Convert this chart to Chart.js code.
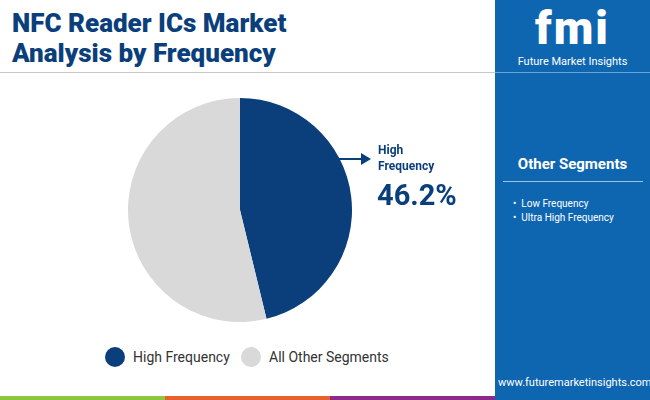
<!DOCTYPE html>
<html><head><meta charset="utf-8">
<script src="https://cdn.jsdelivr.net/npm/chart.js@4"></script>
<style>
body{margin:0;width:650px;height:400px;position:relative;overflow:hidden;background:#fff;font-family:Roboto,"Open Sans",sans-serif}
.abs{position:absolute}
#title{left:12px;top:8px;font-size:26px;font-weight:900;color:#0b3f7c;line-height:30px}
#rule{left:0;top:72px;width:495px;height:1px;background:#c8c8c8}
#side{left:495px;top:0;width:155px;height:400px;background:#0f66b0}
#chartBox{left:128px;top:98px;width:224px;height:224px}
.leg{top:347px;font-size:14px;color:#333;display:flex;align-items:center}
.dot{width:20px;height:20px;border-radius:50%;margin-right:8px}
</style></head><body>
<div id="title" class="abs">NFC Reader ICs Market<br>Analysis by Frequency</div>
<div id="rule" class="abs"></div>
<div id="side" class="abs">
  <div class="abs" style="left:0;top:4px;width:155px;text-align:center;color:#fff;font-size:46px;font-weight:900;line-height:48px;letter-spacing:2px">fmi</div>
  <div class="abs" style="left:0;top:55px;width:155px;text-align:center;color:#fff;font-size:11px;line-height:13px">Future Market Insights</div>
  <div class="abs" style="left:0;top:72px;width:155px;height:1px;background:#6ea3d6"></div>
  <div class="abs" style="left:0;top:155px;width:155px;text-align:center;font-size:15px;font-weight:700;color:#fff">Other Segments</div>
  <div class="abs" style="left:8px;top:181px;width:140px;height:1px;background:#9cc3e8"></div>
  <div class="abs" style="left:18px;top:197px;font-size:10px;color:#fff;line-height:14px">•&nbsp;&nbsp;Low Frequency<br>•&nbsp;&nbsp;Ultra High Frequency</div>
  <div class="abs" style="left:3px;top:376px;font-size:11px;color:#fff">www.futuremarketinsights.com</div>
</div>
<div class="abs" style="left:0;top:396px;width:165px;height:4px;background:#8dc63f"></div>
<div class="abs" style="left:165px;top:396px;width:165px;height:4px;background:#e8612c"></div>
<div class="abs" style="left:330px;top:396px;width:165px;height:4px;background:#8b2a8b"></div>
<div id="chartBox" class="abs"><canvas id="pie"></canvas></div>
<svg class="abs" style="left:333px;top:152px" width="40" height="14"><line x1="0" y1="7" x2="30" y2="7" stroke="#0b3f7c" stroke-width="2"/><polygon points="28,1 38,7 28,13" fill="#0b3f7c"/></svg>
<div class="abs" style="left:378px;top:142px;font-size:12px;font-weight:700;color:#0b3f7c;line-height:16px">High<br>Frequency</div>
<div class="abs" style="left:377px;top:178px;font-size:29px;font-weight:700;color:#0b3f7c">46.2%</div>
<div class="abs leg" style="left:105px"><div class="dot" style="background:#0b3f7c"></div>High Frequency</div>
<div class="abs leg" style="left:241px"><div class="dot" style="background:#d9d9d9"></div>All Other Segments</div>
<script>
const labels = ["High Frequency", "All Other Segments"];
const shares = [46.2, 53.8];
const colors = ["#0b3f7c", "#d9d9d9"];
new Chart(document.getElementById("pie"), {
  type: "pie",
  data: { labels, datasets: [{ data: shares, backgroundColor: colors, borderWidth: 0 }] },
  options: { responsive: true, maintainAspectRatio: false, animation: false,
    plugins: { legend: { display: false }, tooltip: { enabled: false } } }
});
</script>
</body></html>
